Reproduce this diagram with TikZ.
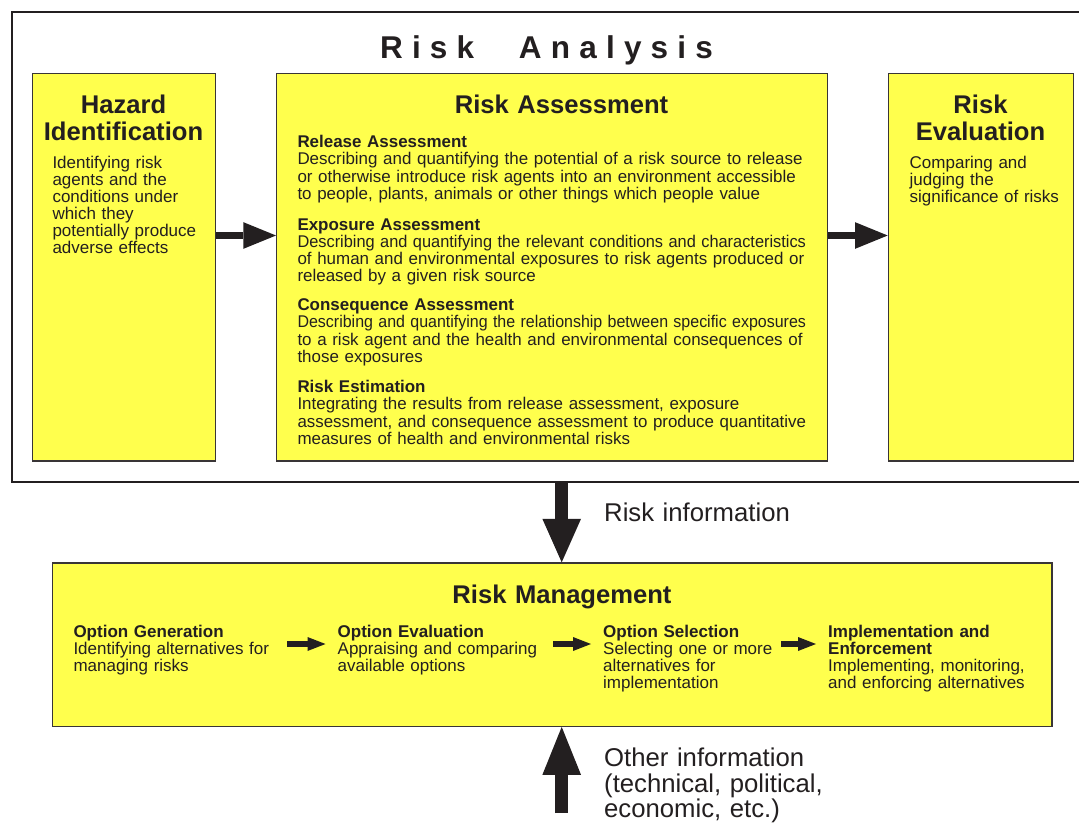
\documentclass[tikz,border=0pt]{standalone}
\usepackage{fontspec}
\usepackage{graphicx}
\setmainfont{Liberation Sans}
\usetikzlibrary{arrows.meta}
\definecolor{ink}{HTML}{231F20}
\definecolor{boxyellow}{HTML}{FFFF4D}
\newcommand\fitrow[1]{\resizebox{508.5pt}{\height}{#1}}
\begin{document}
\begin{tikzpicture}[x=1pt,y=-1pt,
  every node/.style={text=ink},
  ybox/.style={draw=ink!90, line width=1.3pt, fill=boxyellow, inner sep=0pt, anchor=north west},
  framebox/.style={draw=ink, line width=2.3pt, inner sep=0pt, anchor=north west},
  small/.style={font=\fontsize{17}{17}\selectfont},
  txt/.style={small, inner sep=0pt, align=left, anchor=base west},
  ratxt/.style={font=\fontsize{16.95}{17.2}\selectfont, inner sep=0pt, align=left, anchor=base west, text width=520pt},
  head/.style={font=\fontsize{25.6}{26.7}\selectfont\bfseries, inner sep=0pt, align=center, anchor=base, text width=220pt},
  lbl/.style={font=\fontsize{25.7}{25.5}\selectfont, inner sep=0pt, align=left, anchor=base west, text width=300pt},
  bigarrow/.style={draw=ink, line width=7.7pt, -{Triangle[length=32.7pt,width=26.7pt,line width=0pt]}},
  vertarrow/.style={draw=ink, line width=13pt, -{Triangle[length=43.5pt,width=38.7pt,line width=0pt]}},
  uparrow/.style={draw=ink, line width=13pt, -{Triangle[length=48pt,width=38.7pt,line width=0pt]}},
  smallarrow/.style={draw=ink, line width=5.5pt, shorten >=12pt, -{Triangle[length=18pt,width=14pt,line width=0pt]}}
]
\useasboundingbox (0,0) rectangle (1079,822);
\fill[white] (0,0) rectangle (1079,822);

% outer frame (right edge lies beyond the picture)
\node[framebox, minimum width=1080pt, minimum height=470pt] (analysis) at (11,11) {};
\node[font=\fontsize{31.5}{31.5}\selectfont\bfseries, inner sep=0pt, anchor=base] (title) at (546.5,58.3)
  {R\kern9.2pt i\kern9.2pt s\kern9.2pt k\kern18pt\ \kern18pt A\kern9.2pt n\kern9.2pt a\kern9.2pt l\kern9.2pt y\kern9.2pt s\kern9.2pt i\kern9.2pt s};

% three upper boxes
\node[ybox, minimum width=183.3pt, minimum height=387.5pt] (haz) at (31.7,72.7) {};
\node[ybox, minimum width=551pt, minimum height=387.5pt] (ra) at (276,72.7) {};
\node[ybox, minimum width=185pt, minimum height=387.5pt] (re) at (887.7,72.7) {};

\node[head] (hazh) at (123.5,113.3) {Hazard\\Identification};
\node[txt, text width=160pt] (hazt) at (52.3,168.3) {Identifying risk\\agents and the\\conditions under\\which they\\potentially produce\\adverse effects};

\node[head] (rah) at (561.5,113.3) {Risk Assessment};
\node[ratxt] (rel) at (297.3,147.7) {\textbf{Release Assessment}\\Describing and quantifying the potential of a risk source to release\\or otherwise introduce risk agents into an environment accessible\\to people, plants, animals or other things which people value};
\node[ratxt] (exp) at (297.3,230) {\textbf{Exposure Assessment}\\\fitrow{Describing and quantifying the relevant conditions and characteristics}\\of human and environmental exposures to risk agents produced or\\released by a given risk source};
\node[ratxt] (con) at (297.3,310.7) {\textbf{Consequence Assessment}\\\fitrow{Describing and quantifying the relationship between specific exposures}\\to a risk agent and the health and environmental consequences of\\those exposures};
\node[ratxt] (est) at (297.3,392.7) {\textbf{Risk Estimation}\\Integrating the results from release assessment, exposure\\\fitrow{assessment, and consequence assessment to produce quantitative}\\measures of health and environmental risks};

\node[head] (reh) at (980.5,113.3) {Risk\\Evaluation};
\node[txt, text width=160pt] (ret) at (909.5,168.3) {Comparing and\\judging the\\significance of risks};

\coordinate (toprow) at (0,235.5);
\draw[bigarrow] (haz.east |- toprow) -- (ra.west |- toprow);
\draw[bigarrow] (ra.east |- toprow) -- (re.west |- toprow);

% risk management
\node[ybox, minimum width=999.5pt, minimum height=163.3pt] (rm) at (51.7,562.3) {};
\node[head] (rmh) at (562,603) {Risk Management};

\node[txt, text width=213.4pt] (og) at (73.3,637.3) {\textbf{Option Generation}\\Identifying alternatives for\\managing risks};
\node[txt, text width=215.5pt] (oe) at (337.5,637.3) {\textbf{Option Evaluation}\\Appraising and comparing\\available options};
\node[txt, text width=178pt] (os) at (603,637.3) {\textbf{Option Selection}\\Selecting one or more\\alternatives for\\implementation};
\node[txt, text width=215pt] (ie) at (828,637.3) {\textbf{Implementation and}\\\textbf{Enforcement}\\Implementing, monitoring,\\and enforcing alternatives};

\coordinate (midrow) at (0,644);
\draw[smallarrow] (og.east |- midrow) -- (oe.west |- midrow);
\draw[smallarrow] (oe.east |- midrow) -- (os.west |- midrow);
\draw[smallarrow] (os.east |- midrow) -- (ie.west |- midrow);

% vertical flows
\coordinate (col) at (561.7,0);
\draw[vertarrow] (analysis.south -| col) -- (rm.north -| col);
\node[lbl] (riskinfo) at (604,521.7) {Risk information};

\coordinate (otherfoot) at (561.7,813);
\draw[uparrow] (otherfoot) -- (rm.south -| col);
\node[lbl] (otherinfo) at (604,766.7) {Other information\\(technical, political,\\economic, etc.)};
\end{tikzpicture}
\end{document}
